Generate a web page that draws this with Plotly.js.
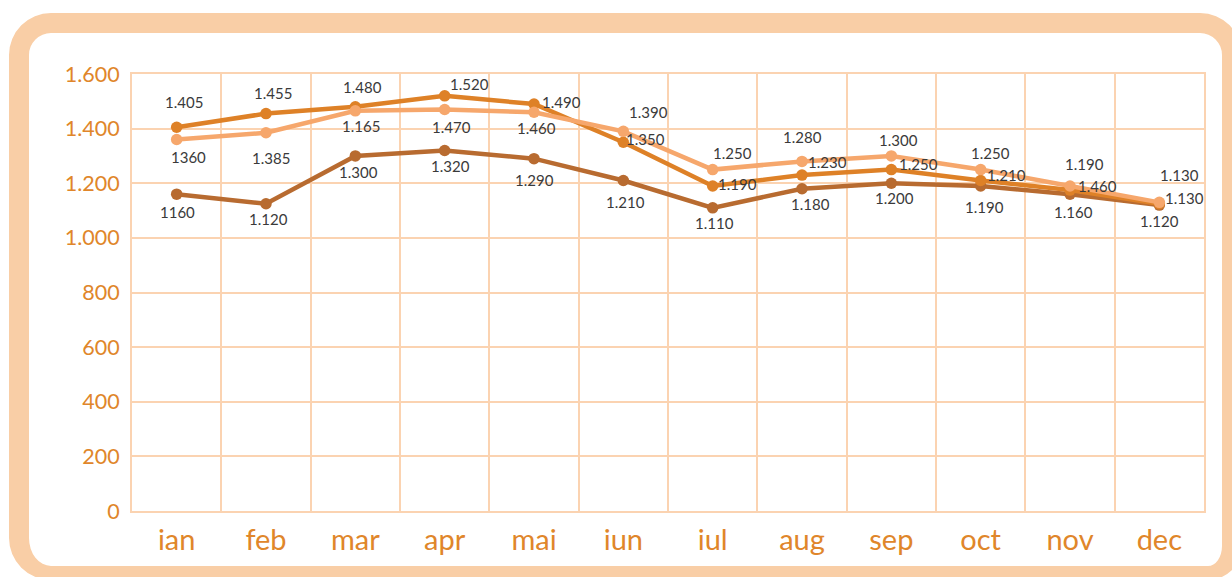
<!DOCTYPE html>
<html>
<head>
<meta charset="utf-8">
<script src="https://cdn.plot.ly/plotly-3.0.1.min.js"></script>
<style>
  html, body { margin:0; padding:0; width:1232px; height:577px; overflow:hidden; background:#ffffff; }
  #frame { position:absolute; left:9px; top:13px; width:1193px; height:533px;
           border:20px solid #F9CEA6; border-bottom-width:14px; border-radius:42px 42px 34px 42px;
           background:#ffffff; }
  #chart { position:absolute; left:0; top:0; width:1232px; height:577px; }
</style>
</head>
<body>
<div id="frame"></div>
<div id="chart"></div>
<script>
const months = ['ian','feb','mar','apr','mai','iun','iul','aug','sep','oct','nov','dec'];
const yTicks = [0,200,400,600,800,1000,1200,1400,1600];

const seriesA = [1405,1455,1480,1520,1490,1350,1190,1230,1250,1210,1175,1125];
const labelsA = ['1.405','1.455','1.480','1.520','1.490','1.350','1.190','1.230','1.250','1.210','1.460','1.130'];

const seriesB = [1360,1385,1465,1470,1460,1390,1250,1280,1300,1250,1190,1130];
const labelsB = ['1360','1.385','1.165','1.470','1.460','1.390','1.250','1.280','1.300','1.250','1.190','1.130'];

const seriesC = [1160,1125,1300,1320,1290,1210,1110,1180,1200,1190,1160,1120];
const labelsC = ['1160','1.120','1.300','1.320','1.290','1.210','1.110','1.180','1.200','1.190','1.160','1.120'];

// label offsets (styling, pixels)
const offA = [[7,25],[7,21],[7,20],[25,12],[27,2],[22,3],[25,2],[25,13],[27,6],[26,6],[27,4],[25,6]];
const offB = [[12,-17],[5,-25],[6,-15],[7,-17],[2,-16],[25,19],[20,17],[0,24],[7,16],[10,17],[14,22],[20,27]];
const offC = [[1,-18],[2,-15],[3,-16],[6,-16],[0,-21],[2,-21],[2,-15],[8,-15],[3,-15],[4,-21],[3,-18],[0,-16]];

const colA = '#DE8127', colB = '#F6A76C', colC = '#B86B30';
const grid = '#FBD3B1';
const tickCol = '#E0862A';

function trace(vals, col) {
  return { x: months, y: vals, type: 'scatter', mode: 'lines+markers',
    line: { color: col, width: 4.5 }, marker: { color: col, size: 11.5 },
    hoverinfo: 'skip', showlegend: false, cliponaxis: false };
}

const annotations = [];
function addLabels(vals, labels, offs) {
  vals.forEach((v, i) => {
    annotations.push({ x: months[i], y: v, xref: 'x', yref: 'y', text: labels[i],
      showarrow: false, xshift: offs[i][0], yshift: offs[i][1],
      font: { family: 'Lato, sans-serif', size: 15, color: '#3a3a3a' } });
  });
}
addLabels(seriesA, labelsA, offA);
addLabels(seriesB, labelsB, offB);
addLabels(seriesC, labelsC, offC);

const layout = {
  width: 1232, height: 577,
  margin: { l: 132, r: 28, t: 74, b: 66, pad: 0 },
  paper_bgcolor: 'rgba(0,0,0,0)', plot_bgcolor: 'rgba(0,0,0,0)',
  separators: ',.',
  xaxis: { type: 'category', tickson: 'boundaries', showgrid: true, gridcolor: grid, gridwidth: 2,
    showline: true, linecolor: grid, linewidth: 2, mirror: true, ticks: '', zeroline: false,
    tickfont: { family: 'Lato, sans-serif', size: 29, color: tickCol }, ticklabelstandoff: 2,
    range: [-0.5, 11.5] },
  yaxis: { range: [0, 1600], tickvals: yTicks, tickformat: ',d', showgrid: true, gridcolor: grid, gridwidth: 2,
    showline: true, linecolor: grid, linewidth: 2, mirror: true, ticks: '', zeroline: false,
    tickfont: { family: 'Lato, sans-serif', size: 21.5, color: tickCol }, ticklabelstandoff: 6 },
  annotations: annotations
};

Plotly.newPlot('chart', [trace(seriesC, colC), trace(seriesA, colA), trace(seriesB, colB)], layout,
  { displayModeBar: false, staticPlot: true });
</script>
</body>
</html>
